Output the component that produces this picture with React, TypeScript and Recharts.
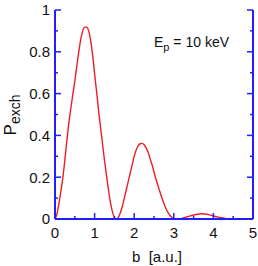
import { LineChart, Line, XAxis, YAxis } from "recharts"

// impact parameter b [a.u.]
const bValues = [
  0, 0.05, 0.1, 0.15, 0.2, 0.25, 0.3, 0.35, 0.4, 0.45, 0.5, 0.55, 0.6, 0.65,
  0.7, 0.75, 0.8, 0.85, 0.9, 0.95, 1.0, 1.05, 1.1, 1.15, 1.2, 1.25, 1.3, 1.35,
  1.4, 1.45, 1.5, 1.55, 1.6, 1.65, 1.7, 1.75, 1.8, 1.85, 1.9, 1.95, 2.0, 2.05,
  2.1, 2.15, 2.2, 2.25, 2.3, 2.35, 2.4, 2.45, 2.5, 2.55, 2.6, 2.65, 2.7, 2.75,
  2.8, 2.85, 2.9, 2.95, 3.0, 3.05, 3.1, 3.2, 3.3, 3.4, 3.5, 3.6, 3.7, 3.8, 3.9,
  4.0, 4.1, 4.2, 4.3, 4.4, 4.5, 4.6, 4.7, 4.8, 4.9, 5.0,
]

// exchange probability
const pValues = [
  0, 0.025, 0.075, 0.135, 0.2, 0.285, 0.375, 0.46, 0.53, 0.595, 0.66, 0.73,
  0.8, 0.86, 0.9, 0.918, 0.918, 0.9, 0.855, 0.785, 0.695, 0.61, 0.52, 0.44,
  0.36, 0.28, 0.21, 0.14, 0.08, 0.035, 0.008, 0, 0.008, 0.03, 0.06, 0.1, 0.14,
  0.18, 0.22, 0.26, 0.3, 0.33, 0.35, 0.36, 0.362, 0.355, 0.34, 0.32, 0.29,
  0.26, 0.225, 0.19, 0.16, 0.13, 0.1, 0.075, 0.05, 0.032, 0.018, 0.008, 0.002,
  0, 0.001, 0.003, 0.008, 0.014, 0.019, 0.023, 0.025, 0.024, 0.02, 0.015, 0.01,
  0.006, 0.003, 0.001, 0, 0, 0, 0, 0, 0,
]

const xTicks = [0, 0.5, 1, 1.5, 2, 2.5, 3, 3.5, 4, 4.5, 5]
const yTicks = [0, 0.1, 0.2, 0.3, 0.4, 0.5, 0.6, 0.7, 0.8, 0.9, 1]

const data = bValues.map((b, i) => ({ b, p: pValues[i] }))

const AXIS = "#1f1fff"
const FONT = "'Liberation Sans', Arial, sans-serif"

const isMajorX = (v: number) => Number.isInteger(v)
const isMajorY = (v: number) => Math.round(v * 10) % 2 === 0

const BottomTick = ({ x, y, payload }: any) => {
  const major = isMajorX(payload.value)
  return (
    <g>
      <line x1={x} x2={x} y1={y} y2={y - (major ? 6 : 3)} stroke={AXIS} strokeWidth={1.5} />
      {major && (
        <text x={x} y={y + 19} textAnchor="middle" fontSize={15} fontFamily={FONT} fill="#111">
          {payload.value}
        </text>
      )}
    </g>
  )
}

const TopTick = ({ x, y, payload }: any) => (
  <line x1={x} x2={x} y1={y} y2={y + (isMajorX(payload.value) ? 6 : 3)} stroke={AXIS} strokeWidth={1.5} />
)

const LeftTick = ({ x, y, payload }: any) => {
  const major = isMajorY(payload.value)
  return (
    <g>
      <line x1={x} x2={x + (major ? 6 : 3)} y1={y} y2={y} stroke={AXIS} strokeWidth={1.5} />
      {major && (
        <text x={x - 5} y={y} dy="0.36em" textAnchor="end" fontSize={15} fontFamily={FONT} fill="#111">
          {String(payload.value)}
        </text>
      )}
    </g>
  )
}

const RightTick = ({ x, y, payload }: any) => (
  <line x1={x} x2={x - (isMajorY(payload.value) ? 6 : 3)} y1={y} y2={y} stroke={AXIS} strokeWidth={1.5} />
)

export default function App() {
  return (
    <div>
      <style>{`body{margin:0}`}</style>
      <LineChart width={258} height={266} data={data} margin={{ top: 10, right: 0, bottom: 0, left: 0 }}>
        <XAxis
          dataKey="b"
          type="number"
          domain={[0, 5]}
          ticks={xTicks}
          interval={0}
          height={47}
          tickSize={0}
          tickMargin={0}
          tickLine={false}
          axisLine={{ stroke: AXIS, strokeWidth: 2 }}
          tick={<BottomTick />}
          allowDataOverflow
        />
        <XAxis
          xAxisId="top"
          orientation="top"
          dataKey="b"
          type="number"
          domain={[0, 5]}
          ticks={xTicks}
          interval={0}
          height={0}
          tickSize={0}
          tickMargin={0}
          tickLine={false}
          axisLine={{ stroke: AXIS, strokeWidth: 2 }}
          tick={<TopTick />}
          allowDataOverflow
        />
        <YAxis
          type="number"
          domain={[0, 1]}
          ticks={yTicks}
          interval={0}
          width={55}
          tickSize={0}
          tickMargin={0}
          tickLine={false}
          axisLine={{ stroke: AXIS, strokeWidth: 2 }}
          tick={<LeftTick />}
          allowDataOverflow
        />
        <YAxis
          yAxisId="right"
          orientation="right"
          type="number"
          domain={[0, 1]}
          ticks={yTicks}
          interval={0}
          width={5}
          tickSize={0}
          tickMargin={0}
          tickLine={false}
          axisLine={{ stroke: AXIS, strokeWidth: 2 }}
          tick={<RightTick />}
          allowDataOverflow
        />
        <Line
          type="monotone"
          dataKey="p"
          stroke="#ee1c25"
          strokeWidth={1.4}
          dot={false}
          isAnimationActive={false}
        />
        <text x={157} y={262} textAnchor="middle" fontSize={15} fontFamily={FONT} fill="#111" xmlSpace="preserve">
          {"b  [a.u.]"}
        </text>
        <text transform="translate(16,115) rotate(-90)" textAnchor="middle" fontFamily={FONT} fill="#111">
          <tspan fontSize={17}>P</tspan>
          <tspan fontSize={14} dy={4}>exch</tspan>
        </text>
        <text x={154} y={47} fontSize={14} fontFamily={FONT} fill="#111">
          <tspan>E</tspan>
          <tspan fontSize={11} dy={4}>p</tspan>
          <tspan dy={-4}>{" = 10 keV"}</tspan>
        </text>
      </LineChart>
    </div>
  )
}
